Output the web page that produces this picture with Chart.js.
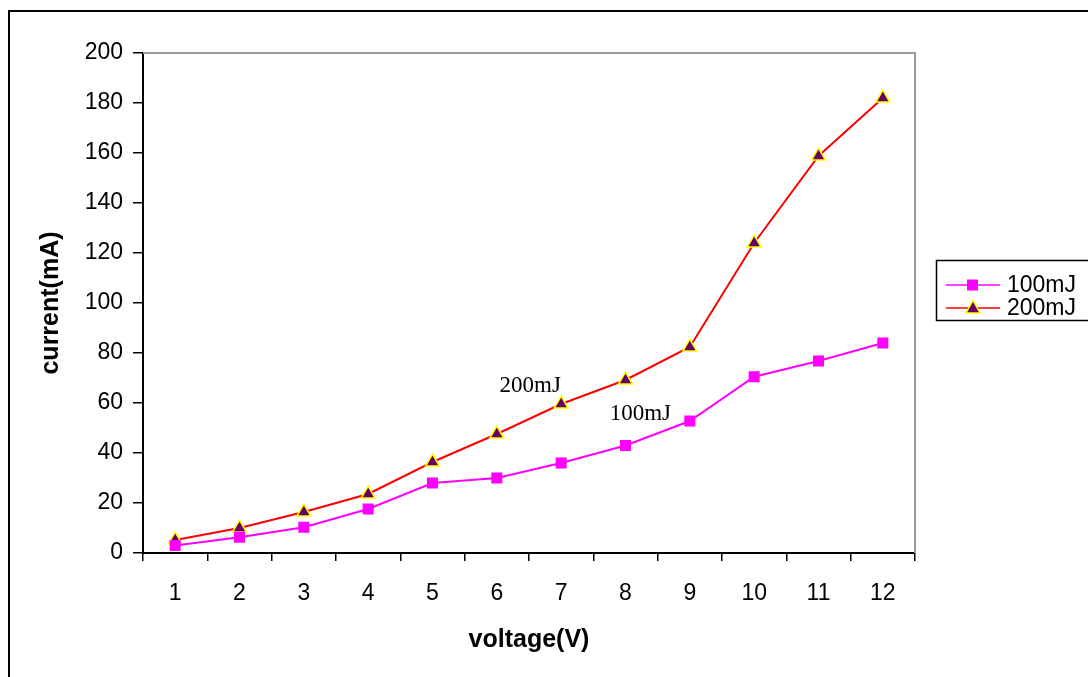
<!DOCTYPE html>
<html>
<head>
<meta charset="utf-8">
<script src="https://cdn.jsdelivr.net/npm/chart.js@4/dist/chart.umd.min.js"></script>
<style>
  html, body { margin: 0; padding: 0; background: #fff; }
  #wrap { width: 1088px; height: 677px; position: relative; }
</style>
</head>
<body>
<div id="wrap"><canvas id="ivChart"></canvas></div>
<script>
// Voltage steps (x axis)
const VOLTAGES = ['1', '2', '3', '4', '5', '6', '7', '8', '9', '10', '11', '12'];

// Current readings (mA)
const CURRENT_100MJ = [3, 6.3, 10.3, 17.6, 28, 30, 36, 43, 52.8, 70.5, 76.8, 84];
const CURRENT_200MJ = [5.2, 10, 16.4, 23.6, 36.4, 47.6, 59.6, 69.2, 82.4, 124, 158.8, 182];

// In-plot labels: [text, x (category index), y (mA)]
const LABELS = [
    ['200mJ', 5.52, 67],
    ['100mJ', 7.23, 55.6]
];

const FONT = 'Arial, "Liberation Sans", sans-serif';

// Frame, in-plot labels and legend box
const decorations = {
    id: 'decorations',
    beforeDraw(chart) {
        const c = chart.ctx;
        c.save();
        c.fillStyle = '#fff';
        c.fillRect(0, 0, chart.width, chart.height);
        c.strokeStyle = '#000';
        c.lineWidth = 2;
        c.strokeRect(9, 11, chart.width + 20, chart.height + 20);
        c.restore();
    },
    afterDatasetsDraw(chart) {
        const c = chart.ctx;
        const a = chart.chartArea;
        const xs = chart.scales.x, ys = chart.scales.y;
        c.save();
        // grey top and right edges of plot area
        c.strokeStyle = '#9a9a9a';
        c.lineWidth = 2;
        c.beginPath();
        c.moveTo(a.left, a.top);
        c.lineTo(a.right, a.top);
        c.lineTo(a.right, a.bottom);
        c.stroke();

        // series labels inside the plot
        c.fillStyle = '#000';
        c.font = '23px "Times New Roman", "Liberation Serif", serif';
        c.textAlign = 'center';
        c.textBaseline = 'middle';
        LABELS.forEach(([txt, xi, yv]) => {
            c.fillText(txt, xs.getPixelForValue(xi), ys.getPixelForValue(yv));
        });

        // legend box
        c.strokeStyle = '#000';
        c.lineWidth = 1.5;
        c.strokeRect(936.5, 260.5, 200, 60);
        c.font = '23px ' + FONT;
        c.textAlign = 'left';
        chart.data.datasets.forEach((ds, i) => {
            const y = 285 + i * 23;
            c.strokeStyle = ds.borderColor;
            c.lineWidth = 1.5;
            c.beginPath();
            c.moveTo(946, y);
            c.lineTo(1000, y);
            c.stroke();
            c.fillStyle = ds.pointBackgroundColor;
            c.strokeStyle = ds.pointBorderColor;
            c.lineWidth = ds.pointBorderWidth;
            c.beginPath();
            if (ds.pointStyle === 'rect') {
                c.rect(967, y - 5.5, 11, 11);
                c.fill();
            } else {
                c.moveTo(973, y - 7.5);
                c.lineTo(980, y + 5);
                c.lineTo(966, y + 5);
                c.closePath();
                c.fill();
                c.stroke();
            }
            c.fillStyle = '#000';
            c.fillText(ds.label, 1007, y + 1);
        });
        c.restore();
    }
};

new Chart(document.getElementById('ivChart'), {
    type: 'line',
    data: {
        labels: VOLTAGES,
        datasets: [{
            label: '100mJ',
            data: CURRENT_100MJ,
            borderColor: '#ff00ff',
            borderWidth: 2,
            pointStyle: 'rect',
            pointRadius: 7.8,
            pointBackgroundColor: '#ff00ff',
            pointBorderColor: '#ff00ff',
            pointBorderWidth: 0,
            tension: 0
        }, {
            label: '200mJ',
            data: CURRENT_200MJ,
            borderColor: '#ff0000',
            borderWidth: 2,
            pointStyle: 'triangle',
            pointRadius: 8,
            pointBackgroundColor: '#660066',
            pointBorderColor: '#ffff00',
            pointBorderWidth: 1.5,
            tension: 0
        }]
    },
    options: {
        responsive: true,
        maintainAspectRatio: false,
        animation: false,
        layout: { padding: { left: 0, top: 53, right: 173, bottom: 0 } },
        plugins: {
            legend: { display: false },
            tooltip: { enabled: false }
        },
        scales: {
            x: {
                offset: true,
                grid: { offset: true, drawOnChartArea: false, color: '#000', tickLength: 8, lineWidth: 1.5 },
                border: { color: '#000', width: 2 },
                ticks: { color: '#000', font: { family: FONT, size: 23 }, padding: 19, maxRotation: 0 },
                title: { display: true, text: 'voltage(V)', color: '#000', font: { family: FONT, size: 25, weight: 'bold' }, padding: { top: 4, bottom: 22 } },
                afterFit: s => { s.height = 124; }
            },
            y: {
                min: 0,
                max: 200,
                ticks: { stepSize: 20, color: '#000', font: { family: FONT, size: 23 }, padding: 10 },
                grid: { drawOnChartArea: false, color: '#000', tickLength: 10, lineWidth: 1.5 },
                border: { color: '#000', width: 2 },
                title: { display: true, text: 'current(mA)', color: '#000', font: { family: FONT, size: 25, weight: 'bold' }, padding: { top: 36, bottom: 4 } },
                afterFit: s => { s.width = 143; }
            }
        }
    },
    plugins: [decorations]
});
</script>
</body>
</html>
